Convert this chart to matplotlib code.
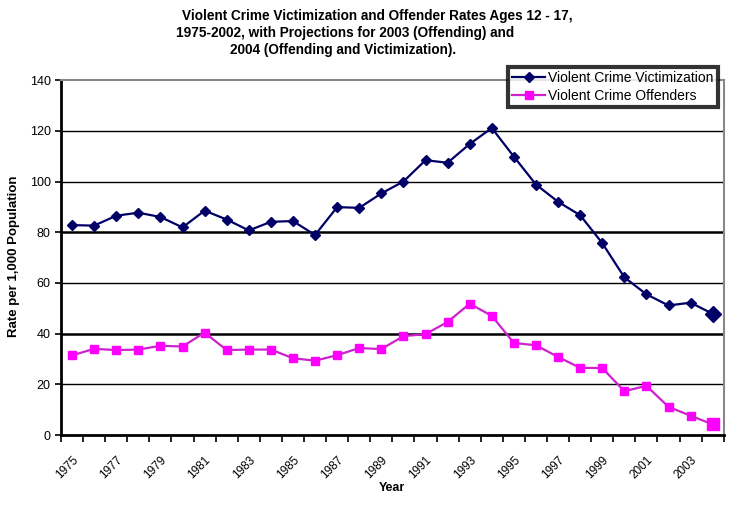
import matplotlib
matplotlib.use("Agg")
import matplotlib.pyplot as plt
import numpy as np

plt.rcParams['font.family'] = ['Liberation Sans', 'DejaVu Sans']

years = list(range(1975, 2005))
victimization = [82.8, 82.6, 86.5, 87.7, 86.0, 81.9, 88.5, 85.0, 80.7, 84.1,
                 84.4, 78.9, 89.9, 89.6, 95.3, 100.0, 108.4, 107.4, 114.8, 121.1,
                 109.8, 98.8, 92.0, 86.7, 75.7, 62.2, 55.5, 51.1, 52.2, 47.8]
offenders = [31.4, 34.0, 33.5, 33.7, 35.2, 34.9, 40.4, 33.5, 33.7, 33.7,
             30.3, 29.3, 31.5, 34.3, 33.9, 39.0, 39.8, 44.6, 51.8, 47.0,
             36.3, 35.4, 30.8, 26.5, 26.4, 17.3, 19.4, 11.1, 7.6, 4.2]
yticks = [0, 20, 40, 60, 80, 100, 120, 140]

x = np.arange(len(years))

fig = plt.figure(figsize=(7.54, 5.07), dpi=100)
ax = fig.add_axes([0.0809, 0.142, 0.879, 0.700])

# gridlines (40 and 80 drawn a bit heavier, like the original)
for v in yticks[1:-1]:
    lw = 1.8 if v in (40, 80) else 1.0
    ax.axhline(v, color='black', linewidth=lw, zorder=1)

ax.plot(x[:-1], victimization[:-1], color='#000066', linewidth=1.6,
        marker='D', markersize=5, label='Violent Crime Victimization', zorder=3)
ax.plot(x[-2:], victimization[-2:], color='#000066', linewidth=1.6, zorder=3)
ax.plot(x[-1], victimization[-1], color='#000066', marker='D', markersize=8, zorder=4)

ax.plot(x[:-1], offenders[:-1], color='#CC22CC', linewidth=1.6,
        marker='s', markersize=6, markerfacecolor='#FF00FF', markeredgecolor='#FF00FF',
        label='Violent Crime Offenders', zorder=3)
ax.plot(x[-2:], offenders[-2:], color='#CC22CC', linewidth=1.6, zorder=3)
ax.plot(x[-1], offenders[-1], color='#FF00FF', marker='s', markersize=8, zorder=4)

ax.set_xlim(-0.5, len(years) - 0.5)
ax.set_ylim(0, 140)
ax.set_yticks(yticks)
ax.tick_params(axis='y', labelsize=9, length=4, width=1.2, direction='out')

ax.set_xticks(x[::2])
ax.set_xticklabels([str(y) for y in years[::2]], rotation=45, ha='right',
                   rotation_mode='anchor', fontsize=8.5)
ax.tick_params(axis='x', which='major', length=0, pad=14)
ax.set_xticks(np.arange(-0.5, len(years)), minor=True)
ax.tick_params(axis='x', which='minor', length=5, width=1.2, direction='out')

ax.spines['left'].set_linewidth(2)
ax.spines['bottom'].set_linewidth(2)
for side in ('top', 'right'):
    ax.spines[side].set_color('#888888')
    ax.spines[side].set_linewidth(1.5)

ax.set_ylabel('Rate per 1,000 Population', fontsize=9.5, fontweight='bold')
ax.yaxis.set_label_coords(-0.062, 0.504)
ax.set_xlabel('Year', fontsize=9, fontweight='bold', labelpad=0)

leg = ax.legend(loc='upper right', bbox_to_anchor=(0.991, 1.037), fontsize=10,
                frameon=True, fancybox=False, borderpad=0.3, labelspacing=0.3,
                handlelength=2.4, handletextpad=0.2, borderaxespad=0)
leg.get_frame().set_edgecolor('black')
leg.get_frame().set_linewidth(3)
leg.set_zorder(5)

fig.text(0.5007, 0.968, 'Violent Crime Victimization and Offender Rates Ages 12 - 17,',
         ha='center', va='center', fontsize=9.8, fontweight='bold')
fig.text(0.458, 0.935, '1975-2002, with Projections for 2003 (Offending) and',
         ha='center', va='center', fontsize=9.8, fontweight='bold')
fig.text(0.455, 0.902, '2004 (Offending and Victimization).',
         ha='center', va='center', fontsize=9.8, fontweight='bold')

fig.savefig('out.png', dpi=100)
